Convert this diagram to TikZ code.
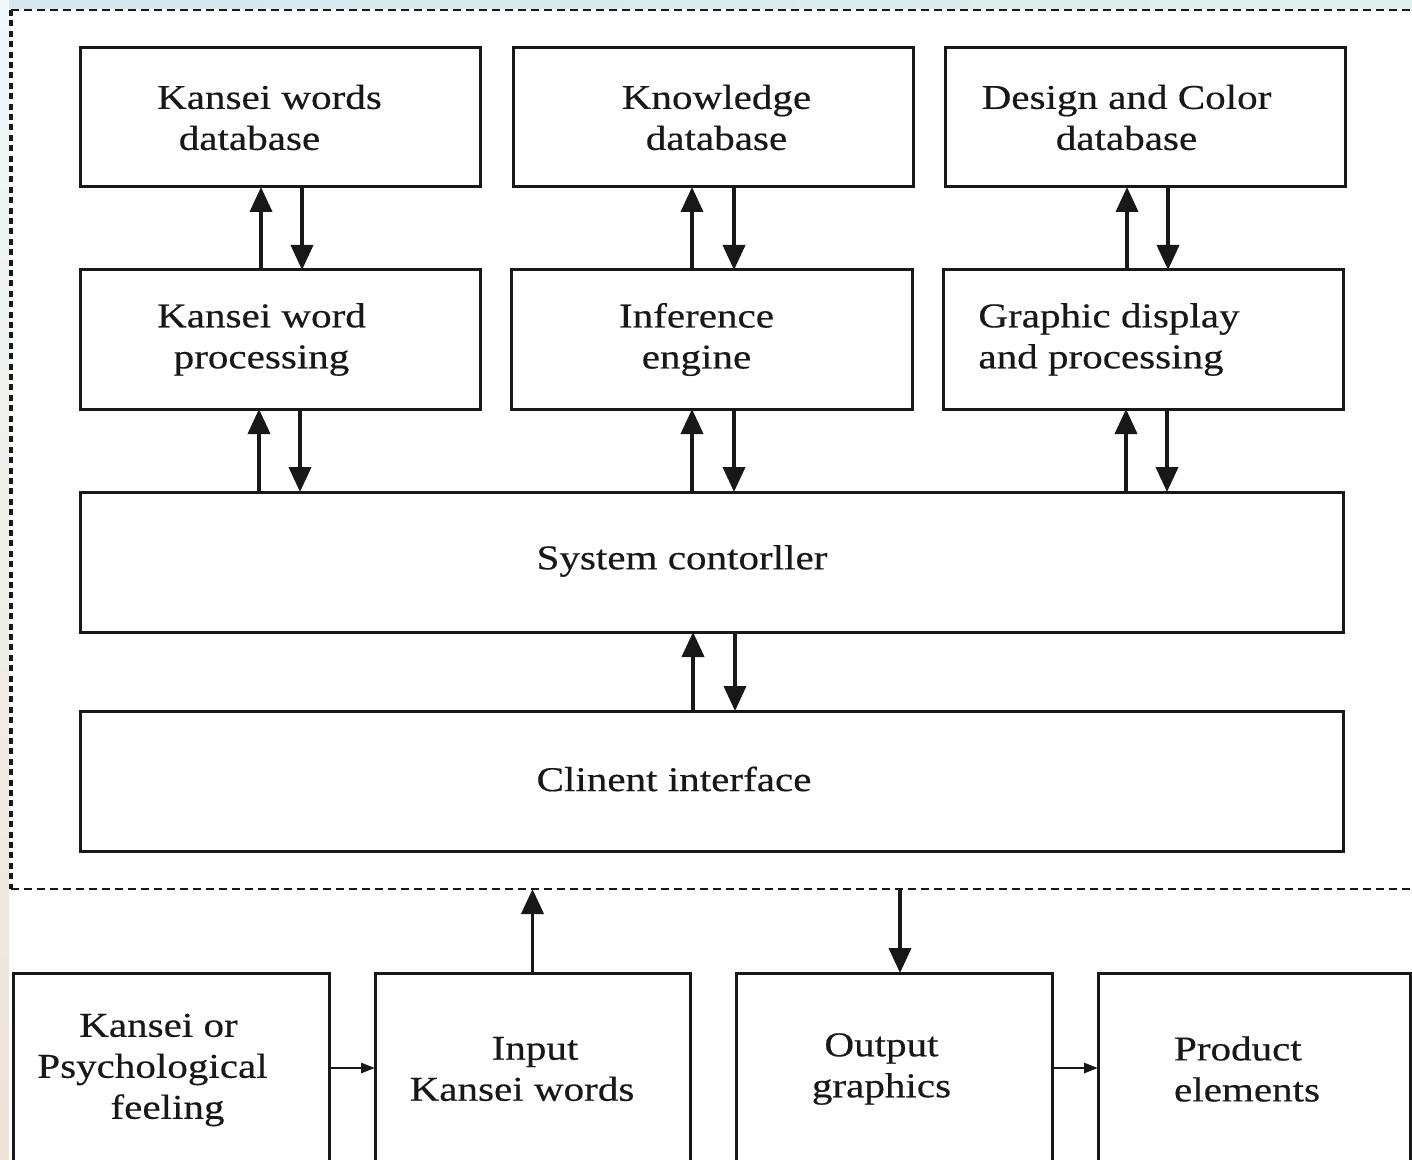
\documentclass[tikz,border=0pt]{standalone}
\usepackage{fontspec}
\setmainfont{Liberation Serif}[FakeStretch=1.18,FakeBold=0.4]
\usetikzlibrary{arrows.meta}
\definecolor{ink}{RGB}{24,24,24}
\definecolor{topblue}{RGB}{214,232,238}
\definecolor{topgreen}{RGB}{224,240,236}
\definecolor{beige}{RGB}{238,228,216}
\definecolor{paleside}{RGB}{240,248,250}
\begin{document}
\begin{tikzpicture}[x=0.5pt,y=-0.5pt,
  box/.style={draw=ink, line width=1.5pt, inner sep=0pt, outer sep=0pt, fill=white},
  txt/.style={text=ink, inner sep=0pt, align=center, font=\fontsize{17.4}{20.5}\selectfont},
  arr/.style={draw=ink, line width=1.9pt, -{Triangle[length=12.5pt,width=11pt]}},
  sarr/.style={draw=ink, line width=1.4pt, -{Triangle[length=7pt,width=5pt]}},
  border/.style={draw=ink, line width=1.4pt, dash pattern=on 4pt off 2.5pt},
  sideborder/.style={draw=ink, line width=1.7pt, dash pattern=on 3pt off 2.2pt}]
\useasboundingbox (0,0) rectangle (1412,1160);
\clip (0,0) rectangle (1412,1160);
\fill[white] (0,0) rectangle (1412,1160);
\shade[left color=topblue, right color=topgreen] (0,0) rectangle (1412,9);
\shade[top color=paleside, bottom color=beige] (0,0) rectangle (9,1160);

% dashed frame
\draw[border] (11,10) -- (1420,10);
\draw[sideborder] (11,10) -- (11,889);
\draw[border] (11,889) -- (1420,889);
\coordinate (dl) at (0,889);
\coordinate (dx) at (900,889);

% top row
\node[box, minimum width=200pt, minimum height=69.5pt] (kwd) at (280,117.5) {};
\node[box, minimum width=200pt, minimum height=69.5pt] (kd) at (713,117.5) {};
\node[box, minimum width=200pt, minimum height=69.5pt] (dcd) at (1145,117.5) {};
\node[txt] (kwdt) at (269.5,117.5) {Kansei words\\database\hspace*{20pt}};
\node[txt] (kdt) at (716.5,117.5) {Knowledge\\database};
\node[txt] (dcdt) at (1126.5,117.5) {Design and Color\\database};

% second row
\node[box, minimum width=200pt, minimum height=69.5pt] (kwp) at (280,339.5) {};
\node[box, minimum width=200.5pt, minimum height=69.5pt] (ie) at (711.5,339.5) {};
\node[box, minimum width=200pt, minimum height=69.5pt] (gd) at (1143,339.5) {};
\node[txt] (kwpt) at (261.5,339.5) {Kansei word\\processing};
\node[txt] (iet) at (696.5,339.5) {Inference\\engine};
\node[txt, align=left] (gdt) at (1109,339.5) {Graphic display\\and processing};

% controller and interface
\node[box, minimum width=631.5pt, minimum height=70pt] (sc) at (711.5,562) {};
\node[txt] (sct) at (682,561) {System contorller};
\node[box, minimum width=631.5pt, minimum height=70pt] (ci) at (711.5,781) {};
\node[txt] (cit) at (674,779) {Clinent interface};

% bottom row
\node[box, minimum width=158pt, minimum height=95pt] (kpf) at (171,1068) {};
\node[box, minimum width=157.5pt, minimum height=95pt] (ikw) at (532.5,1068) {};
\node[box, minimum width=158pt, minimum height=95pt] (og) at (894,1068) {};
\node[box, minimum width=156pt, minimum height=95pt] (pe) at (1254,1068) {};
\node[txt] (kpft) at (152.5,1070) {\hspace*{6pt}Kansei or\\Psychological\\\hspace*{15pt}feeling};
\node[txt] (ikwt) at (522,1069) {\hspace*{13pt}Input\\Kansei words};
\node[txt] (ogt) at (881.5,1069) {Output\\graphics};
\node[txt, align=left] (pet) at (1247,1069) {Product\\elements};

% arrow x positions
\coordinate (u1) at (261,0); \coordinate (d1) at (302,0);
\coordinate (u2) at (692,0); \coordinate (d2) at (734,0);
\coordinate (u3) at (1127,0); \coordinate (d3) at (1168,0);
\coordinate (v1) at (259,0); \coordinate (e1) at (300,0);
\coordinate (v2) at (692,0); \coordinate (e2) at (734,0);
\coordinate (v3) at (1126,0); \coordinate (e3) at (1167,0);
\coordinate (w1) at (693,0); \coordinate (f1) at (735,0);

% row1 <-> row2
\draw[arr] (kwp.north -| u1) -- (kwd.south -| u1);
\draw[arr] (kwd.south -| d1) -- (kwp.north -| d1);
\draw[arr] (ie.north -| u2) -- (kd.south -| u2);
\draw[arr] (kd.south -| d2) -- (ie.north -| d2);
\draw[arr] (gd.north -| u3) -- (dcd.south -| u3);
\draw[arr] (dcd.south -| d3) -- (gd.north -| d3);

% row2 <-> controller
\draw[arr] (sc.north -| v1) -- (kwp.south -| v1);
\draw[arr] (kwp.south -| e1) -- (sc.north -| e1);
\draw[arr] (sc.north -| v2) -- (ie.south -| v2);
\draw[arr] (ie.south -| e2) -- (sc.north -| e2);
\draw[arr] (sc.north -| v3) -- (gd.south -| v3);
\draw[arr] (gd.south -| e3) -- (sc.north -| e3);

% controller <-> interface
\draw[arr] (ci.north -| w1) -- (sc.south -| w1);
\draw[arr] (sc.south -| f1) -- (ci.north -| f1);

% to and from the system
\draw[arr] (ikw.north) -- (ikw.north |- dl);
\draw[arr] (dx) -- (og.north -| dx);

% small arrows in the bottom row
\draw[sarr] (kpf.east) -- (ikw.west);
\draw[sarr] (og.east) -- (pe.west);
\end{tikzpicture}
\end{document}
